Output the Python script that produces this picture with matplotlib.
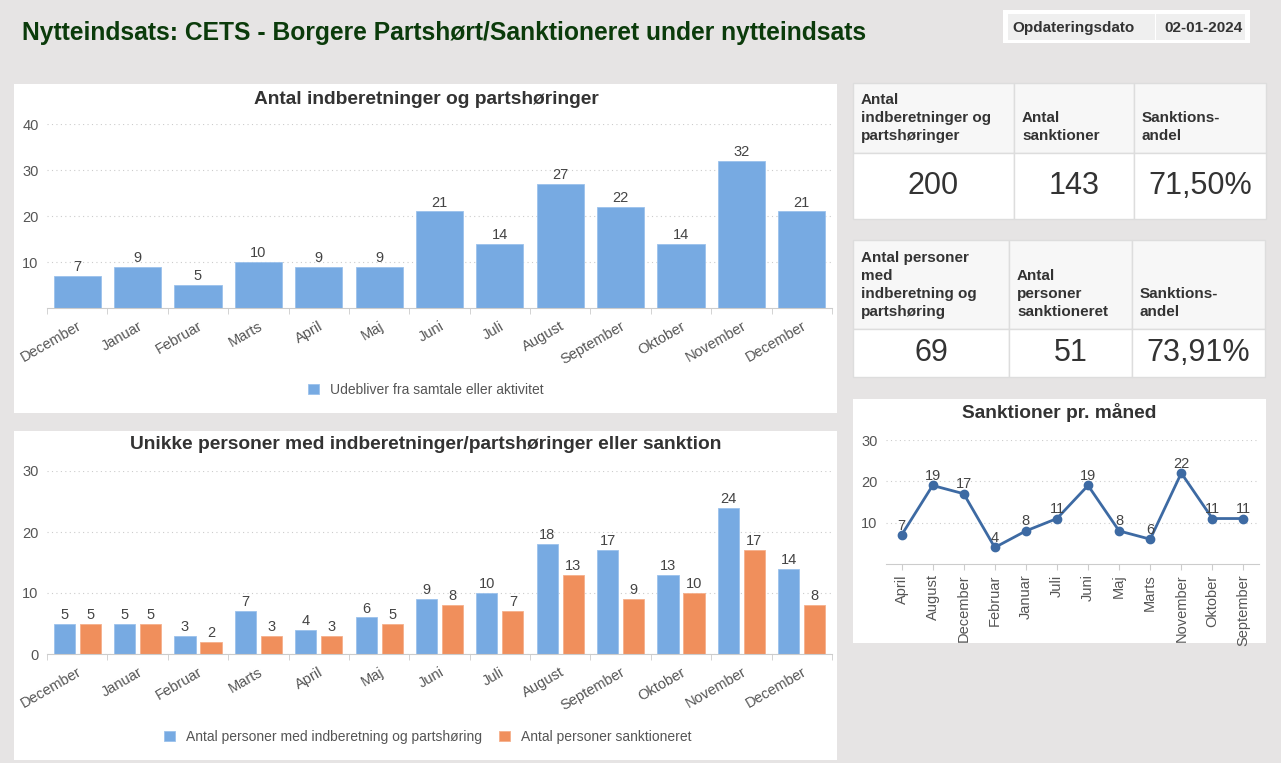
import matplotlib.pyplot as plt
from matplotlib.patches import Rectangle
import numpy as np

plt.rcParams['font.family'] = ['Liberation Sans', 'DejaVu Sans']

W, H = 1281, 763

# data
maaneder = ['December', 'Januar', 'Februar', 'Marts', 'April', 'Maj', 'Juni',
            'Juli', 'August', 'September', 'Oktober', 'November', 'December']
indberetninger = [7, 9, 5, 10, 9, 9, 21, 14, 27, 22, 14, 32, 21]
personer = [5, 5, 3, 7, 4, 6, 9, 10, 18, 17, 13, 24, 14]
sanktioneret = [5, 5, 2, 3, 3, 5, 8, 7, 13, 9, 10, 17, 8]

linje_maaneder = ['April', 'August', 'December', 'Februar', 'Januar', 'Juli',
                  'Juni', 'Maj', 'Marts', 'November', 'Oktober', 'September']
sanktioner = [7, 19, 17, 4, 8, 11, 19, 8, 6, 22, 11, 11]

tabel1_head = ['Antal\nindberetninger og\npartshøringer', 'Antal\nsanktioner', 'Sanktions-\nandel']
tabel1_vals = ['200', '143', '71,50%']
tabel2_head = ['Antal personer\nmed\nindberetning og\npartshøring', 'Antal\npersoner\nsanktioneret',
               'Sanktions-\nandel']
tabel2_vals = ['69', '51', '73,91%']

BLUE = '#77aae2'
ORANGE = '#f08f5c'
LINE = '#3d6aa3'
TXT = '#444444'
FS = 10.5


def box(x0, y0, x1, y1):
    return [x0 / W, 1 - y1 / H, (x1 - x0) / W, (y1 - y0) / H]


def fx(x):
    return x / W


def fy(y):
    return 1 - y / H


def panel(x0, y0, x1, y1, fc='white', ec='none', lw=0):
    fig.patches.append(Rectangle((fx(x0), fy(y1)), (x1 - x0) / W, (y1 - y0) / H,
                                 transform=fig.transFigure, facecolor=fc,
                                 edgecolor=ec, linewidth=lw, zorder=-5))


def style_ax(ax, yticks, ymax):
    ax.set_zorder(2)
    ax.set_ylim(0, ymax)
    ax.set_yticks(yticks)
    for s in ['top', 'right', 'left']:
        ax.spines[s].set_visible(False)
    ax.spines['bottom'].set_color('#cccccc')
    ax.tick_params(axis='y', length=0, labelsize=FS, labelcolor='#555555', pad=6)
    ax.yaxis.grid(True, linestyle=(0, (1, 3)), color='#cccccc', linewidth=0.8)
    ax.set_axisbelow(True)
    ax.set_facecolor('none')


fig = plt.figure(figsize=(W / 100, H / 100), dpi=100)
fig.patch.set_facecolor('#e6e4e4')

# title
fig.text(fx(22), fy(33), 'Nytteindsats: CETS - Borgere Partshørt/Sanktioneret under nytteindsats',
         fontsize=17.7, fontweight='bold', color='#0b3b0b', va='center', ha='left')

# date box
panel(1003, 10, 1250, 43, fc='white')
panel(1008, 14, 1155, 40, fc='#efefef')
panel(1156, 14, 1245, 40, fc='#efefef')
fig.text(fx(1012), fy(28), 'Opdateringsdato', fontsize=11, fontweight='bold', color='#333333', va='center')
fig.text(fx(1164), fy(28), '02-01-2024', fontsize=11, fontweight='bold', color='#333333', va='center')

# panels
panel(14, 84, 837, 413)
panel(14, 431, 837, 760)
panel(853, 399, 1266, 643)

x = np.arange(len(maaneder))

# top bar chart
ax1 = fig.add_axes(box(47, 124, 832, 308))
b1 = ax1.bar(x, indberetninger, width=0.78, color=BLUE, edgecolor='#9cc2ec', linewidth=0.6,
             label='Udebliver fra samtale eller aktivitet')
for xi, v in zip(x, indberetninger):
    ax1.text(xi, v + 0.4, str(v), ha='center', va='bottom', fontsize=FS, color=TXT)
ax1.set_xlim(-0.5, len(maaneder) - 0.5)
style_ax(ax1, [10, 20, 30, 40], 40)
ax1.set_xticks(x)
ax1.set_xticklabels(maaneder, rotation=30, ha='right', rotation_mode='anchor', fontsize=FS, color='#555555')
ax1.set_xticks(np.arange(-0.5, len(maaneder)), minor=True)
ax1.tick_params(axis='x', which='major', length=0, pad=8)
ax1.tick_params(axis='x', which='minor', length=4, color='#cccccc')
fig.text(fx(426), fy(99), 'Antal indberetninger og partshøringer', fontsize=13.8, fontweight='bold',
         color='#333333', ha='center', va='center')
ax1.legend(handles=[b1], loc='center', bbox_to_anchor=(fx(426), fy(390)), bbox_transform=fig.transFigure,
           frameon=False, fontsize=10, handlelength=0.8, handleheight=0.8, labelcolor='#555555')

# bottom grouped bar chart
ax2 = fig.add_axes(box(47, 471, 832, 654))
off = 0.215
b2 = ax2.bar(x - off, personer, width=0.35, color=BLUE, edgecolor='#9cc2ec', linewidth=0.6,
             label='Antal personer med indberetning og partshøring')
b3 = ax2.bar(x + off, sanktioneret, width=0.35, color=ORANGE, edgecolor='#f5b08c', linewidth=0.6,
             label='Antal personer sanktioneret')
for xi, v in zip(x, personer):
    ax2.text(xi - off, v + 0.3, str(v), ha='center', va='bottom', fontsize=FS, color=TXT)
for xi, v in zip(x, sanktioneret):
    ax2.text(xi + off, v + 0.3, str(v), ha='center', va='bottom', fontsize=FS, color=TXT)
ax2.set_xlim(-0.5, len(maaneder) - 0.5)
style_ax(ax2, [0, 10, 20, 30], 30)
ax2.set_xticks(x)
ax2.set_xticklabels(maaneder, rotation=30, ha='right', rotation_mode='anchor', fontsize=FS, color='#555555')
ax2.set_xticks(np.arange(-0.5, len(maaneder)), minor=True)
ax2.tick_params(axis='x', which='major', length=0, pad=8)
ax2.tick_params(axis='x', which='minor', length=4, color='#cccccc')
fig.text(fx(426), fy(445), 'Unikke personer med indberetninger/partshøringer eller sanktion', fontsize=13.8,
         fontweight='bold', color='#333333', ha='center', va='center')
ax2.legend(handles=[b2, b3], loc='center', ncol=2, bbox_to_anchor=(fx(428), fy(737)),
           bbox_transform=fig.transFigure, frameon=False, fontsize=10, handlelength=0.8,
           handleheight=0.8, columnspacing=1.2, labelcolor='#555555')

# line chart
ax3 = fig.add_axes(box(886, 440, 1259, 564))
xl = np.arange(len(linje_maaneder))
ax3.plot(xl, sanktioner, color=LINE, linewidth=2, marker='o', markersize=6)
for xi, v in zip(xl, sanktioner):
    ax3.text(xi, v + 0.6, str(v), ha='center', va='bottom', fontsize=FS, color=TXT)
ax3.set_xlim(-0.5, len(linje_maaneder) - 0.5)
style_ax(ax3, [10, 20, 30], 30)
ax3.set_xticks(xl)
ax3.set_xticklabels(linje_maaneder, rotation=90, fontsize=FS, color='#555555')
ax3.tick_params(axis='x', length=4, color='#cccccc')
fig.text(fx(1059), fy(413), 'Sanktioner pr. måned', fontsize=13.8, fontweight='bold',
         color='#333333', ha='center', va='center')


# tables
def tabel(cols, y0, ymid, y1, head, vals, head_bottom):
    for (c0, c1), h, v in zip(cols, head, vals):
        panel(c0, y0, c1, ymid, fc='#f7f7f7', ec='#dddddd', lw=1)
        panel(c0, ymid, c1, y1, fc='white', ec='#dddddd', lw=1)
        fig.text(fx(c0 + 8), fy(head_bottom), h, fontsize=11, fontweight='bold', color='#333333',
                 ha='left', va='bottom', linespacing=1.35)
        fig.text(fx((c0 + c1) / 2), fy((ymid + y1) / 2), v, fontsize=22, color='#333333',
                 ha='center', va='center')


tabel([(853, 1014), (1014, 1134), (1134, 1266)], 83, 153, 219, tabel1_head, tabel1_vals, 143)
tabel([(853, 1009), (1009, 1132), (1132, 1265)], 240, 329, 377, tabel2_head, tabel2_vals, 319)

fig.savefig('out.png', dpi=100, facecolor=fig.get_facecolor())
